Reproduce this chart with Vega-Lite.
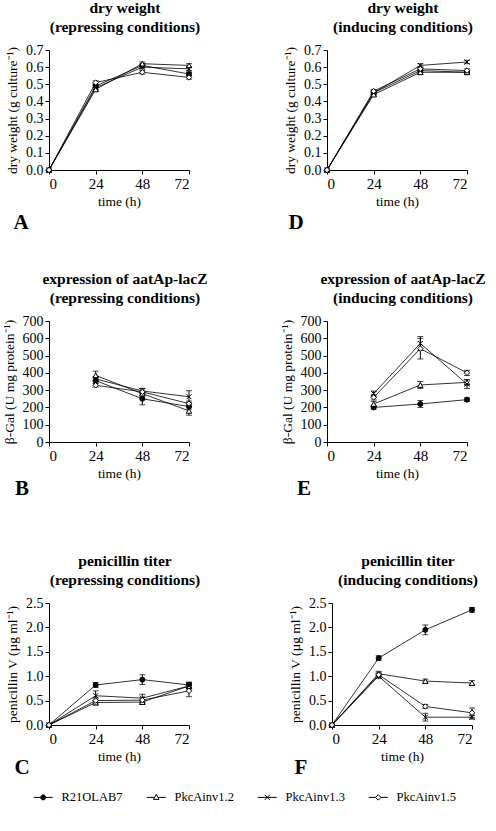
{
  "$schema": "https://vega.github.io/schema/vega-lite/v6.json",
  "background": "white",
  "padding": {"left": 1, "top": 0, "right": 5, "bottom": 0},
  "data": {"values": [
    {"p": "A", "s": "R21OLAB7", "t": 0, "v": 0, "e": 0},
    {"p": "A", "s": "R21OLAB7", "t": 24, "v": 0.49, "e": 0.01},
    {"p": "A", "s": "R21OLAB7", "t": 48, "v": 0.61, "e": 0.01},
    {"p": "A", "s": "R21OLAB7", "t": 72, "v": 0.56, "e": 0.01},
    {"p": "A", "s": "PkcAinv1.2", "t": 0, "v": 0, "e": 0},
    {"p": "A", "s": "PkcAinv1.2", "t": 24, "v": 0.47, "e": 0.01},
    {"p": "A", "s": "PkcAinv1.2", "t": 48, "v": 0.62, "e": 0.01},
    {"p": "A", "s": "PkcAinv1.2", "t": 72, "v": 0.61, "e": 0.01},
    {"p": "A", "s": "PkcAinv1.3", "t": 0, "v": 0, "e": 0},
    {"p": "A", "s": "PkcAinv1.3", "t": 24, "v": 0.48, "e": 0.01},
    {"p": "A", "s": "PkcAinv1.3", "t": 48, "v": 0.60, "e": 0.01},
    {"p": "A", "s": "PkcAinv1.3", "t": 72, "v": 0.59, "e": 0.01},
    {"p": "A", "s": "PkcAinv1.5", "t": 0, "v": 0, "e": 0},
    {"p": "A", "s": "PkcAinv1.5", "t": 24, "v": 0.51, "e": 0.01},
    {"p": "A", "s": "PkcAinv1.5", "t": 48, "v": 0.57, "e": 0.01},
    {"p": "A", "s": "PkcAinv1.5", "t": 72, "v": 0.54, "e": 0.01},

    {"p": "D", "s": "R21OLAB7", "t": 0, "v": 0, "e": 0},
    {"p": "D", "s": "R21OLAB7", "t": 24, "v": 0.45, "e": 0.01},
    {"p": "D", "s": "R21OLAB7", "t": 48, "v": 0.58, "e": 0.01},
    {"p": "D", "s": "R21OLAB7", "t": 72, "v": 0.57, "e": 0.01},
    {"p": "D", "s": "PkcAinv1.2", "t": 0, "v": 0, "e": 0},
    {"p": "D", "s": "PkcAinv1.2", "t": 24, "v": 0.44, "e": 0.01},
    {"p": "D", "s": "PkcAinv1.2", "t": 48, "v": 0.57, "e": 0.01},
    {"p": "D", "s": "PkcAinv1.2", "t": 72, "v": 0.57, "e": 0.01},
    {"p": "D", "s": "PkcAinv1.3", "t": 0, "v": 0, "e": 0},
    {"p": "D", "s": "PkcAinv1.3", "t": 24, "v": 0.45, "e": 0.01},
    {"p": "D", "s": "PkcAinv1.3", "t": 48, "v": 0.61, "e": 0.01},
    {"p": "D", "s": "PkcAinv1.3", "t": 72, "v": 0.63, "e": 0.01},
    {"p": "D", "s": "PkcAinv1.5", "t": 0, "v": 0, "e": 0},
    {"p": "D", "s": "PkcAinv1.5", "t": 24, "v": 0.46, "e": 0.01},
    {"p": "D", "s": "PkcAinv1.5", "t": 48, "v": 0.59, "e": 0.01},
    {"p": "D", "s": "PkcAinv1.5", "t": 72, "v": 0.58, "e": 0.01},

    {"p": "B", "s": "R21OLAB7", "t": 24, "v": 355, "e": 15},
    {"p": "B", "s": "R21OLAB7", "t": 48, "v": 250, "e": 35},
    {"p": "B", "s": "R21OLAB7", "t": 72, "v": 205, "e": 15},
    {"p": "B", "s": "PkcAinv1.2", "t": 24, "v": 385, "e": 25},
    {"p": "B", "s": "PkcAinv1.2", "t": 48, "v": 280, "e": 15},
    {"p": "B", "s": "PkcAinv1.2", "t": 72, "v": 180, "e": 25},
    {"p": "B", "s": "PkcAinv1.3", "t": 24, "v": 365, "e": 15},
    {"p": "B", "s": "PkcAinv1.3", "t": 48, "v": 295, "e": 15},
    {"p": "B", "s": "PkcAinv1.3", "t": 72, "v": 262, "e": 35},
    {"p": "B", "s": "PkcAinv1.5", "t": 24, "v": 328, "e": 10},
    {"p": "B", "s": "PkcAinv1.5", "t": 48, "v": 290, "e": 20},
    {"p": "B", "s": "PkcAinv1.5", "t": 72, "v": 222, "e": 15},

    {"p": "E", "s": "R21OLAB7", "t": 24, "v": 200, "e": 10},
    {"p": "E", "s": "R21OLAB7", "t": 48, "v": 220, "e": 20},
    {"p": "E", "s": "R21OLAB7", "t": 72, "v": 245, "e": 10},
    {"p": "E", "s": "PkcAinv1.2", "t": 24, "v": 220, "e": 15},
    {"p": "E", "s": "PkcAinv1.2", "t": 48, "v": 330, "e": 20},
    {"p": "E", "s": "PkcAinv1.2", "t": 72, "v": 345, "e": 15},
    {"p": "E", "s": "PkcAinv1.3", "t": 24, "v": 280, "e": 15},
    {"p": "E", "s": "PkcAinv1.3", "t": 48, "v": 570, "e": 40},
    {"p": "E", "s": "PkcAinv1.3", "t": 72, "v": 335, "e": 25},
    {"p": "E", "s": "PkcAinv1.5", "t": 24, "v": 258, "e": 15},
    {"p": "E", "s": "PkcAinv1.5", "t": 48, "v": 540, "e": 60},
    {"p": "E", "s": "PkcAinv1.5", "t": 72, "v": 400, "e": 15},

    {"p": "C", "s": "R21OLAB7", "t": 0, "v": 0, "e": 0},
    {"p": "C", "s": "R21OLAB7", "t": 24, "v": 0.82, "e": 0.05},
    {"p": "C", "s": "R21OLAB7", "t": 48, "v": 0.93, "e": 0.1},
    {"p": "C", "s": "R21OLAB7", "t": 72, "v": 0.82, "e": 0.05},
    {"p": "C", "s": "PkcAinv1.2", "t": 0, "v": 0, "e": 0},
    {"p": "C", "s": "PkcAinv1.2", "t": 24, "v": 0.46, "e": 0.05},
    {"p": "C", "s": "PkcAinv1.2", "t": 48, "v": 0.47, "e": 0.04},
    {"p": "C", "s": "PkcAinv1.2", "t": 72, "v": 0.80, "e": 0.05},
    {"p": "C", "s": "PkcAinv1.3", "t": 0, "v": 0, "e": 0},
    {"p": "C", "s": "PkcAinv1.3", "t": 24, "v": 0.60, "e": 0.1},
    {"p": "C", "s": "PkcAinv1.3", "t": 48, "v": 0.55, "e": 0.08},
    {"p": "C", "s": "PkcAinv1.3", "t": 72, "v": 0.80, "e": 0.08},
    {"p": "C", "s": "PkcAinv1.5", "t": 0, "v": 0, "e": 0},
    {"p": "C", "s": "PkcAinv1.5", "t": 24, "v": 0.50, "e": 0.05},
    {"p": "C", "s": "PkcAinv1.5", "t": 48, "v": 0.51, "e": 0.05},
    {"p": "C", "s": "PkcAinv1.5", "t": 72, "v": 0.70, "e": 0.12},

    {"p": "F", "s": "R21OLAB7", "t": 0, "v": 0, "e": 0},
    {"p": "F", "s": "R21OLAB7", "t": 24, "v": 1.37, "e": 0.05},
    {"p": "F", "s": "R21OLAB7", "t": 48, "v": 1.95, "e": 0.1},
    {"p": "F", "s": "R21OLAB7", "t": 72, "v": 2.36, "e": 0.05},
    {"p": "F", "s": "PkcAinv1.2", "t": 0, "v": 0, "e": 0},
    {"p": "F", "s": "PkcAinv1.2", "t": 24, "v": 1.05, "e": 0.05},
    {"p": "F", "s": "PkcAinv1.2", "t": 48, "v": 0.90, "e": 0.04},
    {"p": "F", "s": "PkcAinv1.2", "t": 72, "v": 0.86, "e": 0.05},
    {"p": "F", "s": "PkcAinv1.3", "t": 0, "v": 0, "e": 0},
    {"p": "F", "s": "PkcAinv1.3", "t": 24, "v": 1.00, "e": 0.05},
    {"p": "F", "s": "PkcAinv1.3", "t": 48, "v": 0.16, "e": 0.08},
    {"p": "F", "s": "PkcAinv1.3", "t": 72, "v": 0.16, "e": 0.04},
    {"p": "F", "s": "PkcAinv1.5", "t": 0, "v": 0, "e": 0},
    {"p": "F", "s": "PkcAinv1.5", "t": 24, "v": 1.03, "e": 0.05},
    {"p": "F", "s": "PkcAinv1.5", "t": 48, "v": 0.38, "e": 0.04},
    {"p": "F", "s": "PkcAinv1.5", "t": 72, "v": 0.25, "e": 0.1}
  ]},
  "config": {
    "font": "Liberation Serif",
    "view": {"stroke": null},
    "axis": {"domainColor": "black", "tickColor": "black", "labelColor": "black", "titleColor": "black", "grid": false, "labelFont": "Liberation Serif", "titleFont": "Liberation Serif", "labelFontSize": 14, "titleFontSize": 13.5, "titleFontWeight": "normal", "tickSize": 4, "labelPadding": 2, "domainWidth": 1, "tickWidth": 1},
    "axisX": {"labelFontSize": 15, "titlePadding": 3},
    "axisY": {"titlePadding": 6},
    "title": {"font": "Liberation Serif", "fontSize": 15.5, "fontWeight": "bold", "color": "black", "lineHeight": 19, "offset": 8, "frame": "group", "dx": 6},
    "legend": {"labelFont": "Liberation Serif"}
  },
  "spacing": 38,
  "vconcat": [
    {
      "spacing": 82,
      "hconcat": [
        {
          "title": {"text": "A", "orient": "bottom", "anchor": "start", "frame": "bounds", "fontSize": 21, "offset": 4, "dx": 8},
          "vconcat": [{
            "width": 140, "height": 120,
            "title": {"text": ["dry weight", "(repressing conditions)"]},
            "transform": [{"filter": "datum.p === 'A'"}],
            "encoding": {
              "x": {"field": "t", "type": "quantitative", "scale": {"domain": [0, 72]}, "axis": {"values": [0, 24, 48, 72], "title": "time (h)"}},
              "y": {"field": "v", "type": "quantitative", "scale": {"domain": [0, 0.7]}, "axis": {"values": [0, 0.1, 0.2, 0.3, 0.4, 0.5, 0.6, 0.7], "format": ".1f", "title": "dry weight (g culture⁻¹)"}}
            },
            "layer": [
              {"transform": [{"filter": "datum.e > 0"}], "mark": {"type": "errorbar", "ticks": true, "size": 6, "color": "black"}, "encoding": {"yError": {"field": "e"}}},
              {"mark": {"type": "line", "color": "black", "strokeWidth": 0.8}, "encoding": {"detail": {"field": "s"}}},
              {"transform": [{"filter": "datum.s === 'R21OLAB7'"}], "mark": {"type": "point", "shape": "circle", "filled": true, "fill": "black", "stroke": "black", "strokeWidth": 1, "size": 25, "opacity": 1}},
              {"transform": [{"filter": "datum.s === 'PkcAinv1.2'"}], "mark": {"type": "point", "shape": "triangle-up", "filled": true, "fill": "white", "stroke": "black", "strokeWidth": 1, "size": 30, "opacity": 1}},
              {"transform": [{"filter": "datum.s === 'PkcAinv1.3'"}], "mark": {"type": "point", "shape": "M-1,-1L1,1M-1,1L1,-1", "filled": false, "stroke": "black", "strokeWidth": 1, "size": 25, "opacity": 1}},
              {"transform": [{"filter": "datum.s === 'PkcAinv1.5'"}], "mark": {"type": "point", "shape": "diamond", "filled": true, "fill": "white", "stroke": "black", "strokeWidth": 1, "size": 30, "opacity": 1}},
              {
                "mark": {"type": "point", "filled": true, "opacity": 0, "stroke": "black", "strokeWidth": 1},
                "encoding": {
                  "shape": {"field": "s", "type": "nominal", "scale": {"domain": ["R21OLAB7", "PkcAinv1.2", "PkcAinv1.3", "PkcAinv1.5"], "range": ["M-3.8,0H-1M1,0H3.8M-1,0A1,1,0,1,0,1,0A1,1,0,1,0,-1,0", "M-3.8,0H-0.6M0.6,0H3.8M0,-1.2L1.1,0.8L-1.1,0.8Z", "M-3.8,0H3.8M-1,-1L1,1M-1,1L1,-1", "M-3.8,0H-1.1M1.1,0H3.8M0,-1.1L1.1,0L0,1.1L-1.1,0Z"]},
                    "legend": {"title": null, "orient": "none", "legendX": -12, "legendY": 741, "direction": "horizontal", "columns": 4, "symbolSize": 25, "labelFontSize": 12.5, "labelColor": "black", "labelOffset": 12, "columnPadding": 21, "symbolStrokeColor": "black", "symbolStrokeWidth": 1, "symbolOpacity": 1,
                      "encode": {"symbols": {"update": {"opacity": {"value": 1}, "stroke": {"value": "black"}, "strokeWidth": {"value": 1}}}}}},
                  "fill": {"field": "s", "type": "nominal", "scale": {"domain": ["R21OLAB7", "PkcAinv1.2", "PkcAinv1.3", "PkcAinv1.5"], "range": ["black", "white", "white", "white"]},
                    "legend": {"title": null, "orient": "none", "legendX": -12, "legendY": 741, "direction": "horizontal", "columns": 4, "symbolSize": 25, "labelFontSize": 12.5, "labelColor": "black", "labelOffset": 12, "columnPadding": 21, "symbolStrokeColor": "black", "symbolStrokeWidth": 1, "symbolOpacity": 1,
                      "encode": {"symbols": {"update": {"opacity": {"value": 1}, "stroke": {"value": "black"}, "strokeWidth": {"value": 1}}}}}}
                }
              }
            ]
          }]
        },
        {
          "title": {"text": "D", "orient": "bottom", "anchor": "start", "frame": "bounds", "fontSize": 21, "offset": 4, "dx": 5},
          "vconcat": [{
            "width": 140, "height": 120,
            "title": {"text": ["dry weight", "(inducing conditions)"]},
            "transform": [{"filter": "datum.p === 'D'"}],
            "encoding": {
              "x": {"field": "t", "type": "quantitative", "scale": {"domain": [0, 72]}, "axis": {"values": [0, 24, 48, 72], "title": "time (h)"}},
              "y": {"field": "v", "type": "quantitative", "scale": {"domain": [0, 0.7]}, "axis": {"values": [0, 0.1, 0.2, 0.3, 0.4, 0.5, 0.6, 0.7], "format": ".1f", "title": "dry weight (g culture⁻¹)"}}
            },
            "layer": [
              {"transform": [{"filter": "datum.e > 0"}], "mark": {"type": "errorbar", "ticks": true, "size": 6, "color": "black"}, "encoding": {"yError": {"field": "e"}}},
              {"mark": {"type": "line", "color": "black", "strokeWidth": 0.8}, "encoding": {"detail": {"field": "s"}}},
              {"transform": [{"filter": "datum.s === 'R21OLAB7'"}], "mark": {"type": "point", "shape": "circle", "filled": true, "fill": "black", "stroke": "black", "strokeWidth": 1, "size": 25, "opacity": 1}},
              {"transform": [{"filter": "datum.s === 'PkcAinv1.2'"}], "mark": {"type": "point", "shape": "triangle-up", "filled": true, "fill": "white", "stroke": "black", "strokeWidth": 1, "size": 30, "opacity": 1}},
              {"transform": [{"filter": "datum.s === 'PkcAinv1.3'"}], "mark": {"type": "point", "shape": "M-1,-1L1,1M-1,1L1,-1", "filled": false, "stroke": "black", "strokeWidth": 1, "size": 25, "opacity": 1}},
              {"transform": [{"filter": "datum.s === 'PkcAinv1.5'"}], "mark": {"type": "point", "shape": "diamond", "filled": true, "fill": "white", "stroke": "black", "strokeWidth": 1, "size": 30, "opacity": 1}}
            ]
          }]
        }
      ]
    },
    {
      "spacing": 54,
      "vconcat": [
        {
          "spacing": 71,
          "hconcat": [
            {
              "title": {"text": "B", "orient": "bottom", "anchor": "start", "frame": "bounds", "fontSize": 21, "offset": -2, "dx": 13},
              "vconcat": [{
                "width": 140, "height": 121,
                "title": {"text": ["expression of aatAp-lacZ", "(repressing conditions)"]},
                "transform": [{"filter": "datum.p === 'B'"}],
                "encoding": {
                  "x": {"field": "t", "type": "quantitative", "scale": {"domain": [0, 72]}, "axis": {"values": [0, 24, 48, 72], "title": "time (h)"}},
                  "y": {"field": "v", "type": "quantitative", "scale": {"domain": [0, 700]}, "axis": {"values": [0, 100, 200, 300, 400, 500, 600, 700], "title": "β-Gal (U mg protein⁻¹)"}}
                },
                "layer": [
                  {"transform": [{"filter": "datum.e > 0"}], "mark": {"type": "errorbar", "ticks": true, "size": 6, "color": "black"}, "encoding": {"yError": {"field": "e"}}},
                  {"mark": {"type": "line", "color": "black", "strokeWidth": 0.8}, "encoding": {"detail": {"field": "s"}}},
                  {"transform": [{"filter": "datum.s === 'R21OLAB7'"}], "mark": {"type": "point", "shape": "circle", "filled": true, "fill": "black", "stroke": "black", "strokeWidth": 1, "size": 25, "opacity": 1}},
                  {"transform": [{"filter": "datum.s === 'PkcAinv1.2'"}], "mark": {"type": "point", "shape": "triangle-up", "filled": true, "fill": "white", "stroke": "black", "strokeWidth": 1, "size": 30, "opacity": 1}},
                  {"transform": [{"filter": "datum.s === 'PkcAinv1.3'"}], "mark": {"type": "point", "shape": "M-1,-1L1,1M-1,1L1,-1", "filled": false, "stroke": "black", "strokeWidth": 1, "size": 25, "opacity": 1}},
                  {"transform": [{"filter": "datum.s === 'PkcAinv1.5'"}], "mark": {"type": "point", "shape": "diamond", "filled": true, "fill": "white", "stroke": "black", "strokeWidth": 1, "size": 30, "opacity": 1}}
                ]
              }]
            },
            {
              "title": {"text": "E", "orient": "bottom", "anchor": "start", "frame": "bounds", "fontSize": 21, "offset": -2, "dx": 17},
              "vconcat": [{
                "width": 140, "height": 121,
                "title": {"text": ["expression of aatAp-lacZ", "(inducing conditions)"]},
                "transform": [{"filter": "datum.p === 'E'"}],
                "encoding": {
                  "x": {"field": "t", "type": "quantitative", "scale": {"domain": [0, 72]}, "axis": {"values": [0, 24, 48, 72], "title": "time (h)"}},
                  "y": {"field": "v", "type": "quantitative", "scale": {"domain": [0, 700]}, "axis": {"values": [0, 100, 200, 300, 400, 500, 600, 700], "title": "β-Gal (U mg protein⁻¹)"}}
                },
                "layer": [
                  {"transform": [{"filter": "datum.e > 0"}], "mark": {"type": "errorbar", "ticks": true, "size": 6, "color": "black"}, "encoding": {"yError": {"field": "e"}}},
                  {"mark": {"type": "line", "color": "black", "strokeWidth": 0.8}, "encoding": {"detail": {"field": "s"}}},
                  {"transform": [{"filter": "datum.s === 'R21OLAB7'"}], "mark": {"type": "point", "shape": "circle", "filled": true, "fill": "black", "stroke": "black", "strokeWidth": 1, "size": 25, "opacity": 1}},
                  {"transform": [{"filter": "datum.s === 'PkcAinv1.2'"}], "mark": {"type": "point", "shape": "triangle-up", "filled": true, "fill": "white", "stroke": "black", "strokeWidth": 1, "size": 30, "opacity": 1}},
                  {"transform": [{"filter": "datum.s === 'PkcAinv1.3'"}], "mark": {"type": "point", "shape": "M-1,-1L1,1M-1,1L1,-1", "filled": false, "stroke": "black", "strokeWidth": 1, "size": 25, "opacity": 1}},
                  {"transform": [{"filter": "datum.s === 'PkcAinv1.5'"}], "mark": {"type": "point", "shape": "diamond", "filled": true, "fill": "white", "stroke": "black", "strokeWidth": 1, "size": 30, "opacity": 1}}
                ]
              }]
            }
          ]
        },
        {
          "spacing": 87,
          "hconcat": [
            {
              "title": {"text": "C", "orient": "bottom", "anchor": "start", "frame": "bounds", "fontSize": 21, "offset": -6, "dx": 9},
              "vconcat": [{
                "width": 140, "height": 122,
                "title": {"text": ["penicillin titer", "(repressing conditions)"]},
                "transform": [{"filter": "datum.p === 'C'"}],
                "encoding": {
                  "x": {"field": "t", "type": "quantitative", "scale": {"domain": [0, 72]}, "axis": {"values": [0, 24, 48, 72], "title": "time (h)"}},
                  "y": {"field": "v", "type": "quantitative", "scale": {"domain": [0, 2.5]}, "axis": {"values": [0, 0.5, 1, 1.5, 2, 2.5], "format": ".1f", "title": "penicillin V (µg ml⁻¹)"}}
                },
                "layer": [
                  {"transform": [{"filter": "datum.e > 0"}], "mark": {"type": "errorbar", "ticks": true, "size": 6, "color": "black"}, "encoding": {"yError": {"field": "e"}}},
                  {"mark": {"type": "line", "color": "black", "strokeWidth": 0.8}, "encoding": {"detail": {"field": "s"}}},
                  {"transform": [{"filter": "datum.s === 'R21OLAB7'"}], "mark": {"type": "point", "shape": "circle", "filled": true, "fill": "black", "stroke": "black", "strokeWidth": 1, "size": 25, "opacity": 1}},
                  {"transform": [{"filter": "datum.s === 'PkcAinv1.2'"}], "mark": {"type": "point", "shape": "triangle-up", "filled": true, "fill": "white", "stroke": "black", "strokeWidth": 1, "size": 30, "opacity": 1}},
                  {"transform": [{"filter": "datum.s === 'PkcAinv1.3'"}], "mark": {"type": "point", "shape": "M-1,-1L1,1M-1,1L1,-1", "filled": false, "stroke": "black", "strokeWidth": 1, "size": 25, "opacity": 1}},
                  {"transform": [{"filter": "datum.s === 'PkcAinv1.5'"}], "mark": {"type": "point", "shape": "diamond", "filled": true, "fill": "white", "stroke": "black", "strokeWidth": 1, "size": 30, "opacity": 1}}
                ]
              }]
            },
            {
              "title": {"text": "F", "orient": "bottom", "anchor": "start", "frame": "bounds", "fontSize": 21, "offset": -6, "dx": 6},
              "vconcat": [{
                "width": 140, "height": 122,
                "title": {"text": ["penicillin titer", "(inducing conditions)"]},
                "transform": [{"filter": "datum.p === 'F'"}],
                "encoding": {
                  "x": {"field": "t", "type": "quantitative", "scale": {"domain": [0, 72]}, "axis": {"values": [0, 24, 48, 72], "title": "time (h)"}},
                  "y": {"field": "v", "type": "quantitative", "scale": {"domain": [0, 2.5]}, "axis": {"values": [0, 0.5, 1, 1.5, 2, 2.5], "format": ".1f", "title": "penicillin V (µg ml⁻¹)"}}
                },
                "layer": [
                  {"transform": [{"filter": "datum.e > 0"}], "mark": {"type": "errorbar", "ticks": true, "size": 6, "color": "black"}, "encoding": {"yError": {"field": "e"}}},
                  {"mark": {"type": "line", "color": "black", "strokeWidth": 0.8}, "encoding": {"detail": {"field": "s"}}},
                  {"transform": [{"filter": "datum.s === 'R21OLAB7'"}], "mark": {"type": "point", "shape": "circle", "filled": true, "fill": "black", "stroke": "black", "strokeWidth": 1, "size": 25, "opacity": 1}},
                  {"transform": [{"filter": "datum.s === 'PkcAinv1.2'"}], "mark": {"type": "point", "shape": "triangle-up", "filled": true, "fill": "white", "stroke": "black", "strokeWidth": 1, "size": 30, "opacity": 1}},
                  {"transform": [{"filter": "datum.s === 'PkcAinv1.3'"}], "mark": {"type": "point", "shape": "M-1,-1L1,1M-1,1L1,-1", "filled": false, "stroke": "black", "strokeWidth": 1, "size": 25, "opacity": 1}},
                  {"transform": [{"filter": "datum.s === 'PkcAinv1.5'"}], "mark": {"type": "point", "shape": "diamond", "filled": true, "fill": "white", "stroke": "black", "strokeWidth": 1, "size": 30, "opacity": 1}}
                ]
              }]
            }
          ]
        }
      ]
    }
  ]
}
